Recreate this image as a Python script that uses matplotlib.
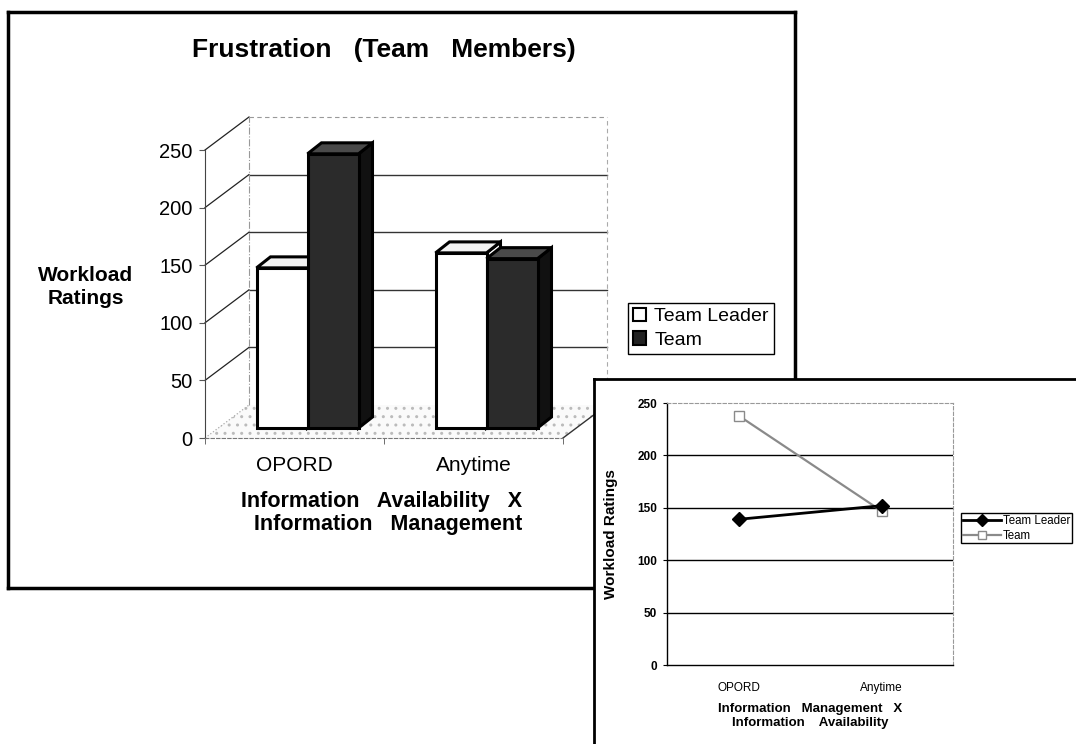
import matplotlib
matplotlib.use("Agg")
import matplotlib.pyplot as plt
from matplotlib.patches import Polygon, Patch

plt.rcParams["font.family"] = ["Liberation Sans", "DejaVu Sans"]

# data
categories = ["OPORD", "Anytime"]
team_leader = [139, 152]
team = [238, 147]
yticks = [0, 50, 100, 150, 200, 250]
series_names = ["Team Leader", "Team"]

W, H = 1076, 744
fig = plt.figure(figsize=(W / 100, H / 100), dpi=100)


def px_box(x0, y0, x1, y1):
    # pixel box (top-left origin) -> figure fraction rect
    return [x0 / W, 1 - y1 / H, (x1 - x0) / W, (y1 - y0) / H]


def framed(rect, lw, z):
    ax = fig.add_axes(rect, zorder=z)
    ax.set_xticks([])
    ax.set_yticks([])
    for s in ax.spines.values():
        s.set_linewidth(lw)
        s.set_color("black")
    ax.set_facecolor("white")
    return ax


# ---------------- big 3D-looking bar chart ----------------
frame1 = framed(px_box(8, 12, 795, 588), 2.5, 0)
frame1.text(384 / W, 1 - 50 / H, "Frustration   (Team   Members)", transform=fig.transFigure,
            ha="center", va="center", fontsize=19, fontweight="bold")

ax1 = fig.add_axes(px_box(205, 150, 563, 438), zorder=1)
ax1.set_facecolor("none")
ax1.set_xlim(0, 2)
ax1.set_ylim(0, 250)

# depth offsets (converted from pixels to data units)
xu = 358 / 2
yu = 288 / 250
wall_dx, wall_dy = 44 / xu, 33 / yu
bar_sx, bar_sy = 13 / xu, 10 / yu
bar_bx, bar_by = 14 / xu, 11 / yu
bar_w = 51 / xu

# floor
floor = Polygon([(0, 0), (2, 0), (2 + wall_dx, wall_dy), (wall_dx, wall_dy)],
                facecolor="#fafafa", edgecolor="#bbbbbb", hatch="..", lw=0, clip_on=False, zorder=0.5)
ax1.add_patch(floor)
ax1.plot([2, 2 + wall_dx], [0, wall_dy], color="#333333", lw=1, clip_on=False, zorder=1)

# left wall diagonals and back wall grid
for v in yticks:
    ax1.plot([0, wall_dx], [v, v + wall_dy], color="#222222" if v > 0 else "#aaaaaa",
             lw=0.9, ls="-" if v > 0 else ":", clip_on=False, zorder=1)
    if 0 < v < 250:
        ax1.plot([wall_dx, 2 + wall_dx], [v + wall_dy] * 2, color="#333333", lw=1, clip_on=False, zorder=1)
    elif v == 250:
        ax1.plot([wall_dx, 2 + wall_dx], [v + wall_dy] * 2, color="#999999", lw=0.8, ls=(0, (4, 3)),
                 clip_on=False, zorder=1)
ax1.plot([wall_dx] * 2, [wall_dy, 250 + wall_dy], color="#999999", lw=0.8, ls="-.", clip_on=False, zorder=1)
ax1.plot([2 + wall_dx] * 2, [wall_dy, 250 + wall_dy], color="#aaaaaa", lw=0.8, ls=(0, (4, 3)),
         clip_on=False, zorder=1)

face_cols = [("white", "#f2f2f2", "white"), ("#2b2b2b", "#4a4a4a", "#111111")]
for i in range(len(categories)):
    for j, vals in enumerate([team_leader, team]):
        front_c, top_c, side_c = face_cols[j]
        x0 = i + 0.5 - bar_w + j * bar_w + bar_sx
        y0 = bar_sy
        v = vals[i]
        side = [(x0 + bar_w, y0), (x0 + bar_w + bar_bx, y0 + bar_by),
                (x0 + bar_w + bar_bx, y0 + v + bar_by), (x0 + bar_w, y0 + v)]
        top = [(x0, y0 + v), (x0 + bar_w, y0 + v),
               (x0 + bar_w + bar_bx, y0 + v + bar_by), (x0 + bar_bx, y0 + v + bar_by)]
        front = [(x0, y0), (x0 + bar_w, y0), (x0 + bar_w, y0 + v), (x0, y0 + v)]
        z = 3 + i * 2 + j * 0.5
        for pts, c in [(side, side_c), (top, top_c), (front, front_c)]:
            ax1.add_patch(Polygon(pts, closed=True, facecolor=c, edgecolor="black", lw=2.2,
                                  joinstyle="miter", clip_on=False, zorder=z))

ax1.spines["top"].set_visible(False)
ax1.spines["right"].set_visible(False)
ax1.spines["left"].set_color("#444444")
ax1.spines["left"].set_linewidth(0.8)
ax1.spines["bottom"].set_color("#777777")
ax1.spines["bottom"].set_linewidth(0.8)
ax1.spines["bottom"].set_linestyle((0, (3, 2)))
ax1.set_yticks(yticks)
ax1.tick_params(axis="y", labelsize=14.5, length=4, color="#555555", pad=5)
ax1.set_xticks([0.5, 1.5], categories)
ax1.tick_params(axis="x", labelsize=15, length=0, pad=13)
ax1.set_xticks([0, 1, 2], minor=True)
ax1.tick_params(axis="x", which="minor", length=4, color="#555555")

ax1.text(86 / W, 1 - 287 / H, "Workload\nRatings", transform=fig.transFigure, ha="center", va="center",
         fontsize=15, fontweight="bold", linespacing=1.3)
ax1.text(522 / W, 1 - 513 / H, "Information   Availability   X\nInformation   Management",
         transform=fig.transFigure, ha="right", va="center", multialignment="right",
         fontsize=15.5, fontweight="bold", linespacing=1.15)

handles = [Patch(facecolor="white", edgecolor="black", lw=1.5),
           Patch(facecolor="#222222", edgecolor="black", lw=1.5)]
ax1.legend(handles, series_names, loc="upper left", bbox_to_anchor=(628 / W, 1 - 303 / H),
           bbox_transform=fig.transFigure, fontsize=14, fancybox=False, framealpha=1,
           edgecolor="black", handlelength=0.7, handleheight=0.7, handletextpad=0.4,
           borderpad=0.25, labelspacing=0.3, borderaxespad=0)

# ---------------- inset line chart ----------------
frame2 = framed(px_box(594, 379, 1090, 760), 2, 5)

ax2 = fig.add_axes(px_box(667, 403, 953, 665), zorder=6)
ax2.set_facecolor("white")
ax2.set_xlim(0, 2)
ax2.set_ylim(0, 250)
xpos = [0.5, 1.5]
for v in yticks[1:-1]:
    ax2.axhline(v, color="black", lw=1, zorder=1)
ax2.plot(xpos, team_leader, color="black", lw=2, marker="D", ms=7, mfc="black", mec="black",
         label=series_names[0], zorder=3)
ax2.plot(xpos, team, color="#8a8a8a", lw=1.6, marker="s", ms=7, mfc="white", mec="#8a8a8a",
         label=series_names[1], zorder=2)

for s in ["top", "right"]:
    ax2.spines[s].set_color("#999999")
    ax2.spines[s].set_linewidth(0.8)
    ax2.spines[s].set_linestyle((0, (3, 2)))
for s in ["left", "bottom"]:
    ax2.spines[s].set_color("black")
    ax2.spines[s].set_linewidth(1)
ax2.set_yticks(yticks)
ax2.tick_params(axis="y", labelsize=8.5, length=3, pad=4)
for t in ax2.get_yticklabels():
    t.set_fontweight("bold")
ax2.set_xticks(xpos, categories)
ax2.tick_params(axis="x", labelsize=8.5, length=0, pad=12)
ax2.set_ylabel("Workload Ratings", fontsize=11, fontweight="heavy")
ax2.yaxis.set_label_coords((618 - 667) / 286, 0.5)
ax2.text(810 / W, 1 - 716 / H, "Information   Management   X\nInformation    Availability",
         transform=fig.transFigure, ha="center", va="center", multialignment="center",
         fontsize=9.5, fontweight="bold", linespacing=1.3)
ax2.legend(loc="upper left", bbox_to_anchor=(961 / W, 1 - 513 / H), bbox_transform=fig.transFigure,
           fontsize=8.3, fancybox=False, framealpha=1, edgecolor="black", handlelength=3.3,
           handletextpad=0.2, borderpad=0.15, labelspacing=0.25, borderaxespad=0, markerscale=0.9)

fig.savefig("out.png", dpi=100, facecolor="white")
